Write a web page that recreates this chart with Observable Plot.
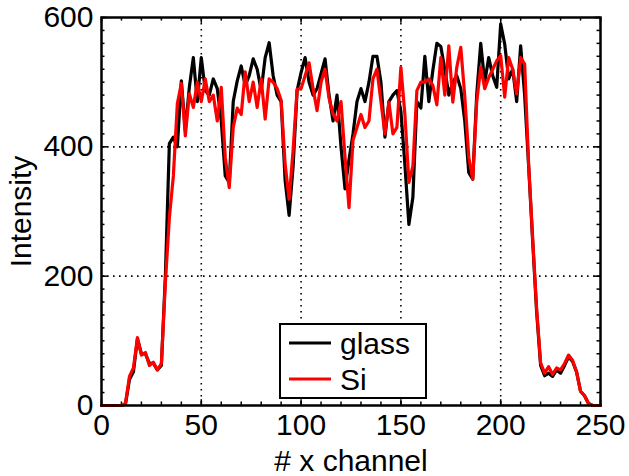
<!DOCTYPE html>
<html><head><meta charset="utf-8">
<script src="https://cdn.jsdelivr.net/npm/d3@7"></script>
<script src="https://cdn.jsdelivr.net/npm/@observablehq/plot@0.6"></script>
<style>
body{margin:0;background:#fff;}
#wrap{position:relative;width:629px;height:476px;overflow:hidden;}
#legend{position:absolute;left:279px;top:323px;width:144px;height:72px;border:2px solid #000;background:#fff;font-family:"Liberation Sans",Arial,Helvetica,sans-serif;font-size:30px;color:#000;}
.row{position:absolute;left:0;height:36px;width:100%;}
.row svg{position:absolute;left:7px;top:0;}
.row span{position:absolute;left:59px;top:1px;line-height:34px;}
</style></head><body>
<div id="wrap"><div id="legend"></div></div>
<script>
const channel = [0,2,4,6,8,10,12,14,16,18,20,22,24,26,28,30,32,34,36,38,40,42,44,46,48,50,52,54,56,58,60,62,64,66,68,70,72,74,76,78,80,82,84,86,88,90,92,94,96,98,100,102,104,106,108,110,112,114,116,118,120,122,124,126,128,130,132,134,136,138,140,142,144,146,148,150,152,154,156,158,160,162,164,166,168,170,172,174,176,178,180,182,184,186,188,190,192,194,196,198,200,202,204,206,208,210,212,214,216,218,220,222,224,226,228,230,232,234,236,238,240,242,244,246,248,250];
const glass = [0,0,0,0,0,0,2,40,52,103,80,80,65,65,55,62,200,405,415,400,502,425,492,538,470,538,487,480,505,490,440,355,345,470,502,525,495,510,536,520,487,538,561,510,480,470,348,294,370,487,515,538,500,480,490,513,536,480,440,480,400,335,380,420,470,490,470,500,540,540,500,415,470,480,487,455,373,280,322,470,460,540,470,518,560,555,520,480,500,510,490,440,360,350,482,560,500,538,510,492,590,559,505,520,470,556,480,370,255,145,62,46,50,45,55,50,62,75,68,52,22,15,3,0,0,0];
const si = [0,0,0,0,0,0,3,45,58,105,78,82,62,67,55,65,190,290,355,467,498,417,482,461,500,470,505,470,480,440,492,384,337,430,460,450,516,470,500,461,505,443,505,500,490,472,373,319,395,489,490,510,530,490,456,500,520,475,451,440,470,384,306,410,430,450,430,440,505,520,470,420,469,420,430,523,450,345,370,487,500,500,505,495,465,538,480,556,469,523,554,478,384,350,470,523,490,507,520,533,541,477,538,520,482,538,528,373,260,150,66,50,60,48,58,55,65,78,70,52,22,15,3,0,0,0];
const seriesNames = ["glass", "Si"];
const seriesColors = ["#000000", "#ff0000"];
const xTicks = [0,50,100,150,200,250];
const yTicks = [0,200,400,600];
const xMinor = d3.range(0, 251, 10);
const yMinor = d3.range(0, 601, 20);

const rows = channel.map((c, i) => ({channel: c, glass: glass[i], si: si[i]}));
const tickStyle = {stroke: "#000", strokeWidth: 1.5};

const chart = Plot.plot({
  width: 629, height: 476,
  marginLeft: 101, marginRight: 29, marginTop: 17, marginBottom: 71,
  style: {fontFamily: "'Liberation Sans', Arial, Helvetica, sans-serif", fontSize: "30px", color: "#000", background: "#fff"},
  x: {domain: [0, 250]},
  y: {domain: [0, 600]},
  marks: [
    Plot.gridX(xTicks.slice(1, -1), {stroke: "#000", strokeOpacity: 1, strokeWidth: 1.6, strokeDasharray: "1.6,4.4"}),
    Plot.gridY(yTicks.slice(1, -1), {stroke: "#000", strokeOpacity: 1, strokeWidth: 1.6, strokeDasharray: "1.6,4.4"}),
    Plot.ruleX(xMinor, {y1: 0, y2: 5.5, ...tickStyle}),
    Plot.ruleX(xMinor, {y1: 600, y2: 594.5, ...tickStyle}),
    Plot.ruleX(xTicks, {y1: 0, y2: 9, ...tickStyle}),
    Plot.ruleX(xTicks, {y1: 600, y2: 591, ...tickStyle}),
    Plot.ruleY(yMinor, {x1: 0, x2: 1.75, ...tickStyle}),
    Plot.ruleY(yMinor, {x1: 250, x2: 248.25, ...tickStyle}),
    Plot.ruleY(yTicks, {x1: 0, x2: 3, ...tickStyle}),
    Plot.ruleY(yTicks, {x1: 250, x2: 247, ...tickStyle}),
    Plot.line(rows, {x: "channel", y: "glass", stroke: seriesColors[0], strokeWidth: 3.2}),
    Plot.line(rows, {x: "channel", y: "si", stroke: seriesColors[1], strokeWidth: 3.2}),
    Plot.frame({stroke: "#000", strokeWidth: 2.5}),
    Plot.axisX(xTicks, {tickSize: 0, tickPadding: 8, label: "# x channel", labelAnchor: "center", labelArrow: "none", labelOffset: 65, fontSize: 30}),
    Plot.axisY(yTicks, {tickSize: 0, tickPadding: 8, label: "Intensity", labelAnchor: "center", labelArrow: "none", labelOffset: 92, fontSize: 30})
  ]
});
document.getElementById("wrap").prepend(chart);

const legend = document.getElementById("legend");
seriesNames.forEach((name, i) => {
  const row = document.createElement("div");
  row.className = "row";
  row.style.top = (i * 36 + 1) + "px";
  row.innerHTML = `<svg width="44" height="36"><line x1="1" x2="43" y1="17" y2="17" stroke="${seriesColors[i]}" stroke-width="3"/></svg><span>${name}</span>`;
  legend.appendChild(row);
});
</script>
</body></html>
